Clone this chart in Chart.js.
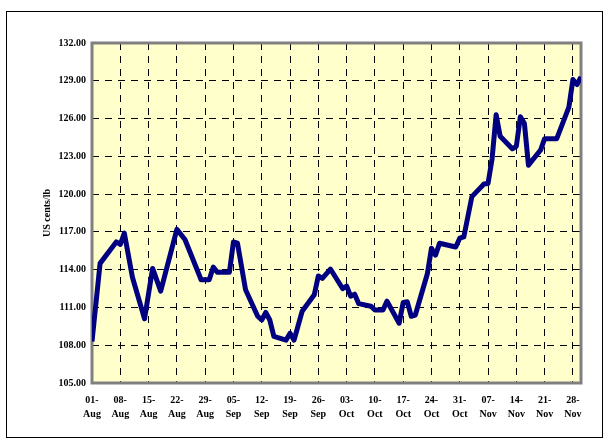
<!DOCTYPE html>
<html>
<head>
<meta charset="utf-8">
<script src="https://cdn.jsdelivr.net/npm/chart.js@4.4.0/dist/chart.umd.min.js"></script>
<style>
  html, body { margin: 0; padding: 0; background: #fff; }
  #frame { position: absolute; left: 6px; top: 11px; width: 595px; height: 425px; border: 1px solid #000; }
  #priceChart { position: absolute; left: 0; top: 0; }
</style>
</head>
<body>
<div id="frame"></div>
<canvas id="priceChart" width="607" height="442"></canvas>
<script>
// price data (MM-DD, US cents/lb)
const dates = ['08-01', '08-03', '08-07', '08-08', '08-09', '08-11', '08-14', '08-16', '08-18', '08-22',
    '08-24', '08-28', '08-30', '08-31', '09-01', '09-04', '09-05', '09-06', '09-08', '09-11',
    '09-12', '09-13', '09-14', '09-15', '09-18', '09-19', '09-20', '09-22', '09-25', '09-26',
    '09-27', '09-29', '10-02', '10-03', '10-04', '10-05', '10-06', '10-09', '10-10', '10-12',
    '10-13', '10-16', '10-17', '10-18', '10-19', '10-20', '10-23', '10-24', '10-25', '10-26',
    '10-30', '10-31', '11-01', '11-03', '11-06', '11-07', '11-08', '11-09', '11-10', '11-13',
    '11-14', '11-15', '11-16', '11-17', '11-20', '11-21', '11-24', '11-27', '11-28', '11-29',
    '11-30'];
const prices = [108.3, 114.5, 116.2, 116.0, 116.9, 113.4, 110.1, 114.1, 112.3, 117.2,
    116.4, 113.2, 113.2, 114.2, 113.8, 113.8, 116.2, 116.1, 112.4, 110.3,
    110.0, 110.6, 110.0, 108.7, 108.4, 108.95, 108.4, 110.7, 112.0, 113.5,
    113.3, 114.05, 112.5, 112.7, 111.9, 112.05, 111.3, 111.1, 110.8, 110.8,
    111.5, 109.75, 111.4, 111.45, 110.3, 110.4, 113.7, 115.7, 115.15, 116.1,
    115.8, 116.5, 116.6, 119.8, 120.8, 120.85, 122.8, 126.3, 124.6, 123.6,
    123.8, 126.15, 125.6, 122.3, 123.5, 124.4, 124.4, 126.9, 129.1, 128.7,
    129.3];

// x axis tick labels (weekly)
const tickDays = ['01', '08', '15', '22', '29', '05', '12', '19', '26', '03', '10', '17', '24', '31', '07', '14', '21', '28'];
const tickMonths = ['Aug', 'Aug', 'Aug', 'Aug', 'Aug', 'Sep', 'Sep', 'Sep', 'Sep', 'Oct', 'Oct', 'Oct', 'Oct', 'Oct', 'Nov', 'Nov', 'Nov', 'Nov'];

// days since 01-Aug
function dayOffset(md) {
    const [m, d] = md.split('-').map(Number);
    return Math.round((Date.UTC(2001, m - 1, d) - Date.UTC(2001, 7, 1)) / 86400000);
}

const points = dates.map((d, i) => ({ x: dayOffset(d), y: prices[i] }));

const tickFont = { family: 'Liberation Serif', size: 10, weight: 'bold', lineHeight: 1.4 };

// yellow plot area with grey frame
const plotArea = {
    id: 'plotArea',
    beforeDatasetsDraw(chart) {
        const a = chart.chartArea, ctx = chart.ctx;
        ctx.save();
        ctx.strokeStyle = '#808080';
        ctx.lineWidth = 3;
        ctx.strokeRect(a.left, a.top, a.right - a.left, a.bottom - a.top);
        ctx.restore();
    },
    beforeDraw(chart) {
        const a = chart.chartArea, ctx = chart.ctx;
        ctx.save();
        ctx.fillStyle = '#FFFFCC';
        ctx.fillRect(a.left, a.top, a.right - a.left, a.bottom - a.top);
        ctx.restore();
    }
};

new Chart(document.getElementById('priceChart'), {
    type: 'line',
    data: {
        datasets: [{
            data: points,
            borderColor: '#000080',
            borderWidth: 5,
            pointRadius: 0,
            tension: 0,
            borderJoinStyle: 'round'
        }]
    },
    options: {
        responsive: false,
        animation: false,
        layout: { padding: { top: 43, right: 26, bottom: 0, left: 0 } },
        plugins: { legend: { display: false }, tooltip: { enabled: false } },
        scales: {
            x: {
                type: 'linear',
                min: 0,
                max: 121,
                afterFit: s => { s.height = 59; },
                ticks: {
                    stepSize: 7,
                    includeBounds: false,
                    autoSkip: false,
                    maxRotation: 0,
                    padding: 10,
                    color: '#000',
                    font: tickFont,
                    callback: v => [tickDays[v / 7] + '-', tickMonths[v / 7]]
                },
                grid: { color: '#000', lineWidth: 1, drawTicks: false },
                border: { display: false, dash: [7, 6] }
            },
            y: {
                min: 105,
                max: 132,
                afterFit: s => { s.width = 92; },
                ticks: {
                    stepSize: 3,
                    padding: 6,
                    color: '#000',
                    font: { family: 'Liberation Serif', size: 10, weight: 'bold' },
                    callback: v => v.toFixed(2)
                },
                grid: { color: '#000', lineWidth: 1, drawTicks: false },
                border: { display: false, dash: [7, 6] },
                title: {
                    display: true,
                    text: 'US cents/lb',
                    color: '#000',
                    font: { family: 'Liberation Serif', size: 10, weight: 'bold' },
                    padding: { top: 41, bottom: 0 }
                }
            }
        }
    },
    plugins: [plotArea]
});
</script>
</body>
</html>
